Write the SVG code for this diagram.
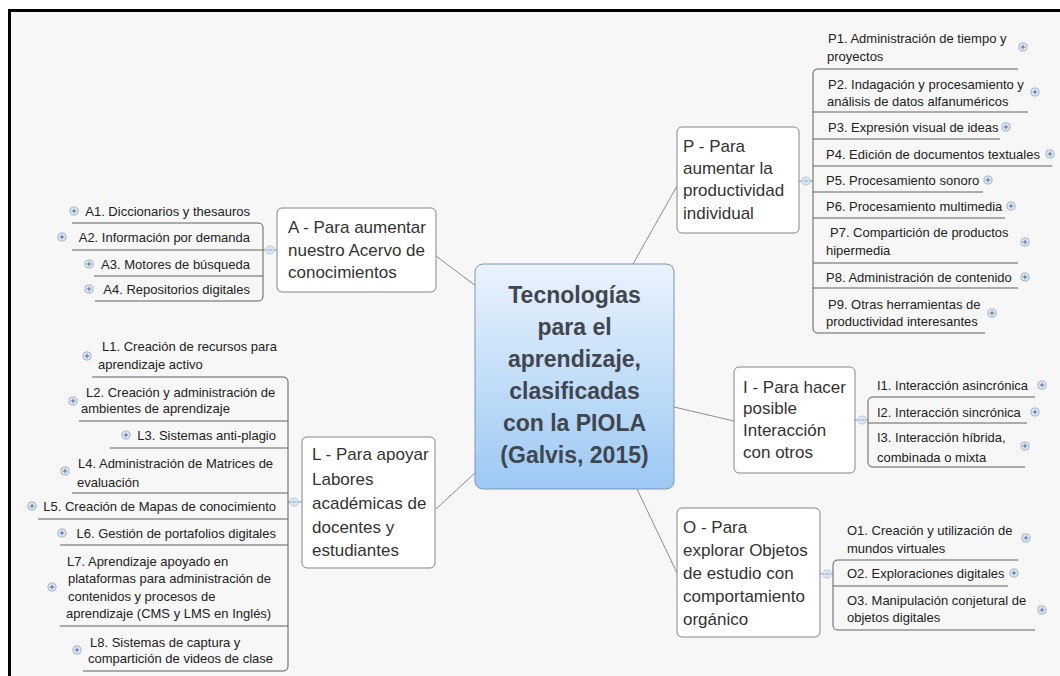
<svg xmlns="http://www.w3.org/2000/svg" width="1060" height="676" viewBox="0 0 1060 676">
<defs>
<linearGradient id="cg" x1="0" y1="0" x2="0" y2="1">
<stop offset="0" stop-color="#eaf3fd"/>
<stop offset="1" stop-color="#9cc9f4"/>
</linearGradient>
<symbol id="plus" viewBox="-5 -5 10 10" overflow="visible">
<circle r="4.5" fill="#e2ebf6" stroke="#7c95b8" stroke-width="0.8"/>
<path d="M-2.5 0H2.5M0 -2.5V2.5" stroke="#3d6497" stroke-width="1"/>
</symbol>
<symbol id="minus" viewBox="-5 -5 10 10" overflow="visible">
<circle r="4.5" fill="#dbe6f3" stroke="#a9bdd8" stroke-width="0.8"/>
<path d="M-2.5 0H2.5" stroke="#8ea6c8" stroke-width="1"/>
</symbol>
</defs>
<style>
.box{fill:#fff;stroke:#858585;stroke-width:1}
.mt{font-family:"Liberation Sans",Arial,sans-serif;font-size:17px;fill:#333}
.st{font-family:"Liberation Sans",Arial,sans-serif;font-size:13px;fill:#222}
.ct{font-family:"Liberation Sans",Arial,sans-serif;font-size:23px;font-weight:bold;fill:#40464e;text-anchor:middle}
.ul{stroke:#606060;stroke-width:1;fill:none}
.conn{stroke:#8c8c8c;stroke-width:1;fill:none}
.e{text-anchor:end}
</style>
<rect x="0" y="0" width="1060" height="676" fill="#ffffff"/>
<rect x="10" y="10" width="1050" height="666" fill="#f7f7f7"/>
<path d="M8 10.5H1060M9.5 9V676" stroke="#000" stroke-width="3" fill="none"/>

<g id="connectors">
<line class="conn" x1="436" y1="256" x2="476" y2="286"/>
<line class="conn" x1="633" y1="264" x2="677" y2="186"/>
<line class="conn" x1="436" y1="509" x2="476" y2="472"/>
<line class="conn" x1="674" y1="407" x2="734" y2="421"/>
<line class="conn" x1="637" y1="489" x2="677" y2="573"/>
<line class="conn" x1="799" y1="181" x2="813" y2="181"/>
<line class="conn" x1="263" y1="250" x2="277" y2="250"/>
<line class="conn" x1="288" y1="502" x2="302" y2="502"/>
<line class="conn" x1="855" y1="420" x2="868" y2="420"/>
<line class="conn" x1="820" y1="574" x2="833" y2="574"/>
<use href="#minus" x="801.5" y="176.5" width="9" height="9"/>
<use href="#minus" x="265.5" y="245.5" width="9" height="9"/>
<use href="#minus" x="289.5" y="497.5" width="9" height="9"/>
<use href="#minus" x="857.5" y="415.5" width="9" height="9"/>
<use href="#minus" x="822.5" y="569.5" width="9" height="9"/>
</g>

<g id="center">
<rect x="475" y="264" width="199" height="225" rx="8" fill="url(#cg)" stroke="#7b96b4" stroke-width="1"/>
<text class="ct" x="574.5" y="303">Tecnologías</text>
<text class="ct" x="574.5" y="335">para el</text>
<text class="ct" x="574.5" y="367">aprendizaje,</text>
<text class="ct" x="574.5" y="399">clasificadas</text>
<text class="ct" x="574.5" y="431">con la PIOLA</text>
<text class="ct" x="574.5" y="463">(Galvis, 2015)</text>
</g>

<g id="nodeP">
<rect class="box" x="677" y="127" width="122" height="106" rx="5"/>
<text class="mt" x="683" y="152">P - Para</text>
<text class="mt" x="683" y="174">aumentar la</text>
<text class="mt" x="683" y="196">productividad</text>
<text class="mt" x="683" y="219">individual</text>
<path class="ul" d="M1018 69H818Q813 69 813 74V328Q813 333 818 333H985"/>
<path class="ul" d="M813 112H1028M813 139H1000M813 166H1052M813 192H983M813 218H1005M813 263H1018M813 288H1018"/>
</g>
<g id="P1"><text class="st" x="828" y="43">P1. Administración de tiempo y</text><text class="st" x="827" y="61">proyectos</text><use href="#plus" x="1018.5" y="42.5" width="9" height="9"/></g>
<g id="P2"><text class="st" x="828" y="88.5">P2. Indagación y procesamiento y</text><text class="st" x="827" y="105.5">análisis de datos alfanuméricos</text><use href="#plus" x="1030.5" y="87.5" width="9" height="9"/></g>
<g id="P3"><text class="st" x="828" y="131.5">P3. Expresión visual de ideas</text><use href="#plus" x="1001.5" y="122.5" width="9" height="9"/></g>
<g id="P4"><text class="st" x="826" y="158.5">P4. Edición de documentos textuales</text><use href="#plus" x="1045.5" y="149.5" width="9" height="9"/></g>
<g id="P5"><text class="st" x="826" y="184.5">P5. Procesamiento sonoro</text><use href="#plus" x="983.5" y="175.5" width="9" height="9"/></g>
<g id="P6"><text class="st" x="826" y="210.5">P6. Procesamiento multimedia</text><use href="#plus" x="1006.5" y="201.5" width="9" height="9"/></g>
<g id="P7"><text class="st" x="830" y="236.5">P7. Compartición de productos</text><text class="st" x="826" y="254.5">hipermedia</text><use href="#plus" x="1020.5" y="237.5" width="9" height="9"/></g>
<g id="P8"><text class="st" x="826" y="281.5">P8. Administración de contenido</text><use href="#plus" x="1020.5" y="272.5" width="9" height="9"/></g>
<g id="P9"><text class="st" x="828" y="308.5">P9. Otras herramientas de</text><text class="st" x="826" y="325.5">productividad interesantes</text><use href="#plus" x="987.5" y="308.5" width="9" height="9"/></g>

<g id="nodeA">
<rect class="box" x="277" y="208" width="159" height="84" rx="5"/>
<text class="mt" x="288" y="233">A - Para aumentar</text>
<text class="mt" x="288" y="256">nuestro Acervo de</text>
<text class="mt" x="288" y="278">conocimientos</text>
<path class="ul" d="M72 223H258Q263 223 263 228V296Q263 301 258 301H95"/>
<path class="ul" d="M72 250H263M94 276H263"/>
</g>
<g id="A1"><text class="st e" x="250" y="215.5">A1. Diccionarios y thesauros</text><use href="#plus" x="69.5" y="206.5" width="9" height="9"/></g>
<g id="A2"><text class="st e" x="250" y="241.5">A2. Información por demanda</text><use href="#plus" x="57.5" y="232.5" width="9" height="9"/></g>
<g id="A3"><text class="st e" x="250" y="268.5">A3. Motores de búsqueda</text><use href="#plus" x="84.5" y="259.5" width="9" height="9"/></g>
<g id="A4"><text class="st e" x="250" y="293.5">A4. Repositorios digitales</text><use href="#plus" x="84.5" y="284.5" width="9" height="9"/></g>

<g id="nodeL">
<rect class="box" x="302" y="437" width="133" height="131" rx="5"/>
<text class="mt" x="312" y="460">L - Para apoyar</text>
<text class="mt" x="312" y="485">Labores</text>
<text class="mt" x="312" y="509">académicas de</text>
<text class="mt" x="312" y="533">docentes y</text>
<text class="mt" x="312" y="556">estudiantes</text>
<path class="ul" d="M92 377H283Q288 377 288 382V666Q288 671 283 671H83"/>
<path class="ul" d="M79 421H288M110 448H288M72 493H288M38 519H288M60 545H288M60 626H288"/>
</g>
<g id="L1"><text class="st" x="102" y="350.5">L1. Creación de recursos para</text><text class="st" x="98" y="368.5">aprendizaje activo</text><use href="#plus" x="82.5" y="351.5" width="9" height="9"/></g>
<g id="L2"><text class="st" x="86" y="396.5">L2. Creación y administración de</text><text class="st" x="81" y="412.5">ambientes de aprendizaje</text><use href="#plus" x="68.5" y="396.5" width="9" height="9"/></g>
<g id="L3"><text class="st e" x="276" y="439.5">L3. Sistemas anti-plagio</text><use href="#plus" x="121.5" y="430.5" width="9" height="9"/></g>
<g id="L4"><text class="st" x="78" y="467.5">L4. Administración de Matrices de</text><text class="st" x="77" y="486.5">evaluación</text><use href="#plus" x="60.5" y="466.5" width="9" height="9"/></g>
<g id="L5"><text class="st e" x="276" y="510.5">L5. Creación de Mapas de conocimiento</text><use href="#plus" x="27.5" y="501.5" width="9" height="9"/></g>
<g id="L6"><text class="st e" x="276" y="537.5">L6. Gestión de portafolios digitales</text><use href="#plus" x="57.5" y="528.5" width="9" height="9"/></g>
<g id="L7"><text class="st" x="67" y="565.5">L7. Aprendizaje apoyado en</text><text class="st" x="68" y="582.5">plataformas para administración de</text><text class="st" x="68" y="600.5">contenidos y procesos de</text><text class="st" x="66" y="617.5">aprendizaje (CMS y LMS en Inglés)</text><use href="#plus" x="47.5" y="582.5" width="9" height="9"/></g>
<g id="L8"><text class="st" x="90" y="646.5">L8. Sistemas de captura y</text><text class="st" x="88" y="662.5">compartición de videos de clase</text><use href="#plus" x="72.5" y="645.5" width="9" height="9"/></g>

<g id="nodeI">
<rect class="box" x="734" y="367" width="121" height="106" rx="5"/>
<text class="mt" x="743" y="393">I - Para hacer</text>
<text class="mt" x="743" y="414">posible</text>
<text class="mt" x="743" y="436">Interacción</text>
<text class="mt" x="743" y="458">con otros</text>
<path class="ul" d="M1035 397H873Q868 397 868 402V462Q868 467 873 467H1025"/>
<path class="ul" d="M868 423H1027"/>
</g>
<g id="I1"><text class="st" x="877" y="389.5">I1. Interacción asincrónica</text><use href="#plus" x="1037.5" y="380.5" width="9" height="9"/></g>
<g id="I2"><text class="st" x="877" y="416.5">I2. Interacción sincrónica</text><use href="#plus" x="1030.5" y="407.5" width="9" height="9"/></g>
<g id="I3"><text class="st" x="877" y="441.5">I3. Interacción híbrida,</text><text class="st" x="877" y="461.5">combinada o mixta</text><use href="#plus" x="1020.5" y="441.5" width="9" height="9"/></g>

<g id="nodeO">
<rect class="box" x="677" y="508" width="143" height="129" rx="5"/>
<text class="mt" x="683" y="533">O - Para</text>
<text class="mt" x="683" y="556">explorar Objetos</text>
<text class="mt" x="683" y="579">de estudio con</text>
<text class="mt" x="683" y="602">comportamiento</text>
<text class="mt" x="683" y="625">orgánico</text>
<path class="ul" d="M1018 560H838Q833 560 833 565V625Q833 630 838 630H1035"/>
<path class="ul" d="M833 586H1008"/>
</g>
<g id="O1"><text class="st" x="847" y="534.5">O1. Creación y utilización de</text><text class="st" x="847" y="552.5">mundos virtuales</text><use href="#plus" x="1021.5" y="533.5" width="9" height="9"/></g>
<g id="O2"><text class="st" x="847" y="577.5">O2. Exploraciones digitales</text><use href="#plus" x="1009.5" y="568.5" width="9" height="9"/></g>
<g id="O3"><text class="st" x="847" y="604.5">O3. Manipulación conjetural de</text><text class="st" x="847" y="621.5">objetos digitales</text><use href="#plus" x="1037.5" y="605.5" width="9" height="9"/></g>
</svg>
